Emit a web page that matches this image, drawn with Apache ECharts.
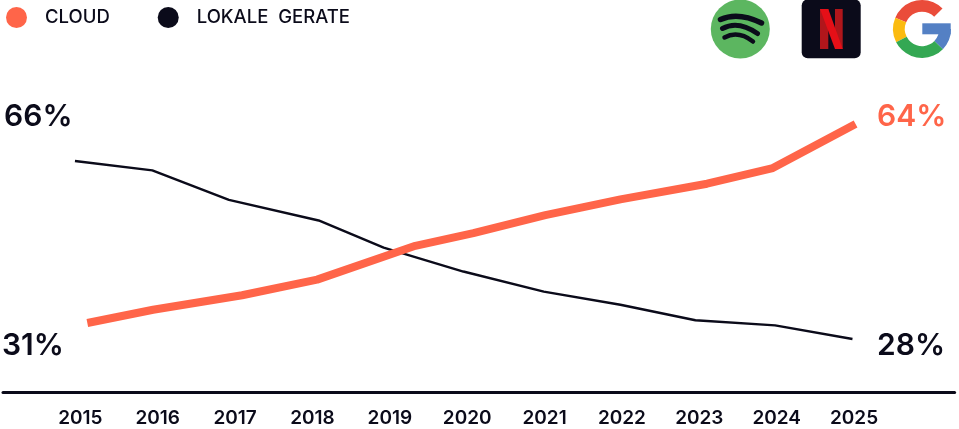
<!DOCTYPE html>
<html>
<head>
<meta charset="utf-8">
<title>Cloud vs lokale Geräte</title>
<style>
html, body { margin: 0; padding: 0; background: #fff; }
#MyChart { width: 959px; height: 429px; }
</style>
<script src="https://cdn.jsdelivr.net/npm/echarts@6/dist/echarts.min.js"></script>
</head>
<body>
<div id="MyChart"></div>
<script>
// values
var tickYears = [2015, 2016, 2017, 2018, 2019, 2020, 2021, 2022, 2023, 2024, 2025];
var cloudYears = [2015.09, 2015.94, 2017.09, 2018.06, 2019.33, 2020.08, 2021.01, 2021.98, 2023.10, 2023.95, 2025.02];
var cloudValues = [31, 33.2, 35.6, 38.2, 43.8, 45.9, 48.9, 51.5, 54.1, 56.7, 64];
var localYears = [2014.93, 2015.93, 2016.92, 2018.08, 2018.92, 2019.95, 2020.99, 2021.98, 2022.95, 2023.98, 2024.98];
var localValues = [66, 64, 57.7, 53.3, 47.5, 42.4, 38.1, 35.3, 32, 30.9, 28];
var seriesNames = ['CLOUD', 'LOKALE  GERATE'];
var startLabels = ['66%', '31%'];
var endLabels = ['64%', '28%'];

var coral = '#FF6549';
var ink = '#0B0B1A';
var fontName = 'Inter';

function toPairs(xs, ys) {
    var pairs = [];
    for (var i = 0; i < xs.length; i++) {
        pairs.push([xs[i], ys[i]]);
    }
    return pairs;
}

function bigText(text, x, y, color) {
    return {
        type: 'text',
        x: x,
        y: y,
        style: { text: text, fill: color, fontFamily: fontName, fontSize: 30, fontWeight: 600, verticalAlign: 'middle' }
    };
}

// brand logos, top right
function spotifyLogo() {
    function band(x1, y1, x2, y2, cx, cy, w) {
        return {
            type: 'bezierCurve',
            shape: { x1: x1, y1: y1, x2: x2, y2: y2, cpx1: cx, cpy1: cy },
            style: { stroke: ink, lineWidth: w, lineCap: 'round', fill: null }
        };
    }
    return [
        { type: 'circle', shape: { cx: 740.3, cy: 29, r: 29.5 }, style: { fill: '#5CB660' } },
        band(720.5, 19.5, 761.5, 23, 738, 11.5, 5.5),
        band(722.5, 28.5, 757.5, 33.5, 738, 20, 5),
        band(724.5, 37.5, 753, 41.5, 738, 30, 4.5)
    ];
}

function netflixLogo() {
    return [
        { type: 'rect', shape: { x: 801.7, y: -0.5, width: 59, height: 58.8, r: 6 }, style: { fill: ink } },
        { type: 'rect', shape: { x: 820, y: 9, width: 8.3, height: 40 }, style: { fill: '#B1161B' } },
        { type: 'rect', shape: { x: 835, y: 9, width: 7.7, height: 40 }, style: { fill: '#B1161B' } },
        { type: 'polygon', shape: { points: [[820, 9], [828.3, 9], [842.7, 49], [835, 49]] }, style: { fill: '#E50F17' } }
    ];
}

function googleLogo() {
    function ring(fromDeg, toDeg, color) {
        return {
            type: 'sector',
            shape: { cx: 922, cy: 29, r: 29, r0: 17.2, startAngle: fromDeg * Math.PI / 180, endAngle: toDeg * Math.PI / 180, clockwise: true },
            style: { fill: color }
        };
    }
    return [
        ring(0, 44, '#5480C4'),
        { type: 'rect', shape: { x: 922.3, y: 23.3, width: 28.4, height: 11 }, style: { fill: '#5480C4' } },
        ring(203, 315, '#EA4C3A'),
        ring(153, 203, '#FBBB10'),
        ring(44, 153, '#34A853')
    ];
}

var myChart = echarts.init(document.getElementById('MyChart'), null, { renderer: 'canvas' });
var option = {
    animation: false,
    backgroundColor: '#fff',
    legend: {
        left: 6,
        top: 7,
        padding: 0,
        itemGap: 48,
        itemWidth: 21,
        itemHeight: 21,
        selectedMode: false,
        data: [
            { name: seriesNames[0], icon: 'circle', itemStyle: { color: coral } },
            { name: seriesNames[1], icon: 'circle', itemStyle: { color: ink } }
        ],
        textStyle: { color: ink, fontFamily: fontName, fontSize: 18.5, fontWeight: 500, padding: [0, 0, 0, 13] }
    },
    grid: { left: 2.6, width: 952, top: 32, height: 360, containLabel: false },
    xAxis: {
        type: 'value',
        min: 2014,
        max: 2026.3,
        interval: 1,
        splitLine: { show: false },
        axisTick: { show: false },
        axisLine: { show: true, onZero: false, lineStyle: { color: ink, width: 3 } },
        axisLabel: {
            color: ink,
            fontFamily: fontName,
            fontSize: 19,
            fontWeight: 600,
            margin: 17,
            formatter: function (value) {
                return tickYears.indexOf(value) >= 0 ? String(value) : '';
            }
        }
    },
    // the two lines are not drawn to one common scale in the picture
    yAxis: [
        { type: 'value', show: false, min: 19.56, max: 79.26, splitLine: { show: false } },
        { type: 'value', show: false, min: 16.68, max: 93.54, splitLine: { show: false } }
    ],
    series: [
        {
            name: seriesNames[1],
            type: 'line',
            yAxisIndex: 1,
            showSymbol: false,
            silent: true,
            itemStyle: { color: ink },
            lineStyle: { color: ink, width: 2.4, cap: 'butt', join: 'round' },
            data: toPairs(localYears, localValues)
        },
        {
            name: seriesNames[0],
            type: 'line',
            yAxisIndex: 0,
            showSymbol: false,
            silent: true,
            itemStyle: { color: coral },
            lineStyle: { color: coral, width: 8, cap: 'butt', join: 'round' },
            data: toPairs(cloudYears, cloudValues)
        }
    ],
    graphic: [
        bigText(startLabels[0], 4, 117, ink),
        bigText(startLabels[1], 2, 346, ink),
        bigText(endLabels[0], 877, 117, coral),
        bigText(endLabels[1], 877, 346, ink)
    ].concat(spotifyLogo(), netflixLogo(), googleLogo())
};
myChart.setOption(option);
</script>
</body>
</html>
